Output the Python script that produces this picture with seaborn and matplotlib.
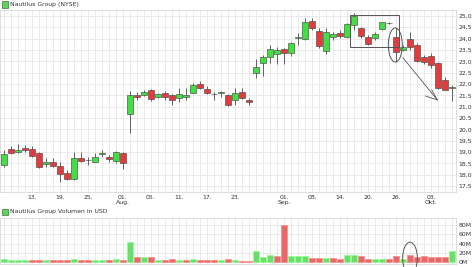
import matplotlib
matplotlib.use("Agg")
import matplotlib.pyplot as plt
from matplotlib.patches import Rectangle, Ellipse
import seaborn as sns
import pandas as pd
import numpy as np

# ---------------- data (Nautilus Group, 07 Jul - 06 Oct 2005) ----------------
dates = ["07.07", "08.07", "11.07", "12.07", "13.07", "14.07", "15.07", "18.07", "19.07", "20.07",
         "21.07", "22.07", "25.07", "26.07", "27.07", "28.07", "29.07", "01.08", "02.08", "03.08",
         "04.08", "05.08", "08.08", "09.08", "10.08", "11.08", "12.08", "15.08", "16.08", "17.08",
         "18.08", "19.08", "22.08", "23.08", "24.08", "25.08", "26.08", "29.08", "30.08", "31.08",
         "01.09", "02.09", "06.09", "07.09", "08.09", "09.09", "12.09", "13.09", "14.09", "15.09",
         "16.09", "19.09", "20.09", "21.09", "22.09", "23.09", "26.09", "27.09", "28.09", "29.09",
         "30.09", "03.10", "04.10", "05.10", "06.10"]

opens = [18.43, 19.13, 19.00, 19.19, 19.13, 18.97, 18.47, 18.56, 18.38, 18.07,
         17.80, 18.72, 18.64, 18.57, 18.93, 18.79, 18.61, 18.97, 20.68, 21.52,
         21.52, 21.74, 21.44, 21.59, 21.52, 21.37, 21.44, 21.62, 22.00, 21.77,
         21.54, 21.59, 21.52, 21.29, 21.63, 21.29, 22.50, 22.94, 23.20, 23.31,
         23.54, 23.35, 24.04, 23.97, 24.78, 24.34, 23.47, 24.06, 24.24, 24.09,
         24.60, 24.46, 24.09, 24.02, 24.41, 24.67, 24.09, 23.50, 23.97, 23.72,
         23.20, 23.24, 22.91, 22.18, 21.82]
highs = [19.09, 19.27, 19.35, 19.31, 19.27, 19.01, 18.74, 18.74, 18.57, 18.21,
         19.01, 19.01, 18.79, 18.94, 19.09, 18.87, 19.04, 19.01, 21.70, 21.66,
         21.75, 21.80, 21.62, 21.70, 21.55, 21.81, 21.81, 22.03, 22.13, 21.91,
         21.66, 21.70, 21.55, 21.82, 21.81, 21.37, 23.09, 23.28, 23.72, 23.65,
         23.60, 23.87, 24.24, 24.90, 24.90, 24.46, 24.46, 24.31, 24.38, 24.68,
         25.12, 24.53, 24.16, 24.31, 24.75, 24.72, 24.46, 23.72, 24.28, 23.80,
         23.28, 23.35, 22.95, 22.32, 21.96]
lows = [18.34, 18.91, 18.96, 19.00, 18.78, 18.30, 18.34, 18.34, 17.69, 17.77,
        17.77, 18.57, 18.43, 18.57, 18.79, 18.57, 18.52, 18.25, 19.85, 21.30,
        21.45, 21.25, 21.38, 21.29, 21.07, 21.22, 21.29, 21.60, 21.77, 21.55,
        21.29, 21.44, 21.05, 21.07, 21.33, 21.07, 22.25, 22.35, 22.91, 22.87,
        22.87, 23.24, 23.72, 23.94, 24.38, 23.58, 23.32, 23.94, 24.02, 24.02,
        24.38, 24.02, 23.72, 23.94, 24.38, 24.64, 22.98, 23.46, 23.50, 22.98,
        22.90, 22.69, 21.76, 21.74, 21.25]
closes = [18.91, 18.96, 19.09, 19.09, 18.83, 18.34, 18.57, 18.40, 18.03, 17.81,
          18.72, 18.61, 18.66, 18.79, 18.95, 18.69, 18.99, 18.53, 21.52, 21.41,
          21.66, 21.33, 21.55, 21.44, 21.29, 21.56, 21.52, 21.96, 21.84, 21.59,
          21.56, 21.66, 21.07, 21.59, 21.37, 21.19, 22.76, 23.20, 23.54, 23.50,
          23.35, 23.80, 24.08, 24.75, 24.46, 23.68, 24.31, 24.19, 24.12, 24.63,
          25.00, 24.12, 23.75, 24.19, 24.72, 24.69, 23.40, 23.65, 23.65, 23.00,
          22.96, 22.84, 21.81, 21.74, 21.84]
volumes_m = [5.8, 3.6, 3.6, 3.6, 4.3, 4.3, 4.3, 3.6, 4.3, 3.6,
             6.5, 4.3, 3.6, 3.6, 3.6, 3.6, 6.5, 5.0, 43.0, 11.6,
             10.8, 11.6, 5.0, 4.3, 6.5, 4.3, 3.6, 6.5, 5.0, 5.0,
             3.6, 5.0, 6.5, 4.3, 2.9, 2.9, 23.0, 10.9, 14.5, 12.3,
             80.0, 13.0, 12.3, 12.3, 8.7, 8.7, 9.4, 8.7, 5.8, 16.0,
             16.0, 13.8, 5.8, 5.8, 7.2, 5.8, 12.3, 6.5, 14.5, 10.9,
             13.0, 10.9, 10.9, 10.9, 25.0]
volume_dir = ["up", "up", "up", "up", "down", "down", "up", "down", "down", "down",
              "up", "down", "down", "up", "up", "down", "up", "down", "up", "down",
              "up", "down", "up", "down", "down", "up", "down", "up", "down", "down",
              "down", "up", "down", "up", "down", "down", "up", "up", "up", "down",
              "down", "up", "up", "up", "down", "down", "up", "down", "down", "up",
              "up", "down", "down", "up", "up", "down", "down", "up", "down", "down",
              "down", "down", "down", "down", "up"]

tick_idx = [4, 8, 12, 17, 21, 25, 29, 33, 40, 44, 48, 52, 56, 61]
tick_labels = ["13.", "19.", "25.", "01.\nAug.", "05.", "11.", "17.", "23.",
               "01.\nSep.", "08.", "14.", "20.", "26.", "03.\nOkt."]
price_ticks = [17.5, 18.0, 18.5, 19.0, 19.5, 20.0, 20.5, 21.0, 21.5, 22.0, 22.5, 23.0, 23.5, 24.0, 24.5, 25.0]
vol_ticks = [0, 20, 40, 60, 80]

# ---------------- styling ----------------
sns.set_theme(style="white")
plt.rcParams["font.family"] = ["DejaVu Sans"]
GREEN = "#3fe03f"
RED = "#e63a3a"
EDGE = "#4a4a4a"
GRID = "#e6e6e6"
TXT = "#333333"
ANN = "#555555"
FS = 4.4

W, H = 475, 267
fig = plt.figure(figsize=(W / 100, H / 100), dpi=100)

def fx(px):
    return px / W

def fy(py):
    return 1 - py / H

n = len(opens)
x = np.arange(n)
xlim = (-0.57, n - 1 + 0.57)

# ---------------- price panel ----------------
ax = fig.add_axes([fx(0), fy(192), fx(456), fy(10) - fy(192)])
ax.set_xlim(*xlim)
ax.set_ylim(17.24, 25.26)
ax.set_xticks(x, minor=True)
ax.set_yticks(price_ticks)
ax.grid(True, which="both", color=GRID, lw=0.6)
ax.set_axisbelow(True)

df = pd.DataFrame({"x": x, "open": opens, "high": highs, "low": lows, "close": closes})
up = df["close"] >= df["open"]
ax.vlines(df["x"], df["low"], df["high"], color=EDGE, lw=0.6, zorder=2)
body_h = (df["close"] - df["open"]).abs().clip(lower=0.03)
body_b = df[["open", "close"]].min(axis=1)
ax.bar(df["x"], body_h, bottom=body_b, width=0.72,
       color=np.where(up, GREEN, RED), edgecolor=EDGE, lw=0.45, zorder=3)

ax.set_xticks(tick_idx)
ax.set_xticklabels(tick_labels, fontsize=FS, color=TXT, linespacing=1.0)
ax.yaxis.tick_right()
ax.set_yticklabels([f"{v:.1f}".replace(".", ",") for v in price_ticks], fontsize=FS, color=TXT)
ax.tick_params(axis="both", length=0, pad=2)
for s in ax.spines.values():
    s.set_color("#d8d8d8")
    s.set_linewidth(0.6)

# annotations on the price panel
ax.add_patch(Rectangle((49.4, 23.63), 7.0, 1.41, fill=False, ec=ANN, lw=0.7, zorder=4))
ax.add_patch(Ellipse((55.9, 23.72), 2.0, 1.5, fill=False, ec=ANN, lw=0.7, zorder=4))
ax.plot([57.0, 61.9], [23.15, 21.3], color=ANN, lw=0.6, zorder=5)
ax.plot([60.2, 61.9], [21.47, 21.3], color=ANN, lw=0.6, zorder=5)
ax.plot([61.1, 61.9], [21.75, 21.3], color=ANN, lw=0.6, zorder=5)

# ---------------- volume panel ----------------
axv = fig.add_axes([fx(0), fy(264), fx(456), fy(218) - fy(264)])
vdf = pd.DataFrame({"idx": x, "vol": volumes_m, "dir": volume_dir})
sns.barplot(data=vdf, x="idx", y="vol", hue="dir", order=list(x),
            palette={"up": "#6ddc6d", "down": "#e26a6a"}, dodge=False, width=0.8,
            saturation=1, legend=False, ax=axv, zorder=3, linewidth=0.6)
for p in axv.patches:
    fc = p.get_facecolor()
    p.set_edgecolor((min(1, fc[0] * 1.1 + 0.1), min(1, fc[1] * 1.1 + 0.1), min(1, fc[2] * 1.1 + 0.1), 1))
axv.set_xlim(*xlim)
axv.set_ylim(-4.3, 95.6)
axv.set_xticks(x)
axv.set_xticklabels([])
axv.set_yticks(vol_ticks)
axv.yaxis.tick_right()
axv.set_yticklabels([f"{v}M" for v in vol_ticks], fontsize=FS, color=TXT)
axv.set_xlabel("")
axv.set_ylabel("")
axv.grid(True, color=GRID, lw=0.6)
axv.set_axisbelow(True)
axv.tick_params(axis="both", length=0, pad=2)
for s in axv.spines.values():
    s.set_color("#d8d8d8")
    s.set_linewidth(0.6)
axv.add_patch(Ellipse((58.0, 8.0), 2.1, 70, fill=False, ec=ANN, lw=0.7, zorder=4, clip_on=False))

# ---------------- titles with legend squares ----------------
for py, label in [(4.5, "Nautilus Group (NYSE)"), (211.5, "Nautilus Group Volumen in USD")]:
    fig.patches.append(Rectangle((fx(2), fy(py + 3)), fx(6), fy(0) - fy(6), transform=fig.transFigure,
                                 facecolor="#5fd35f", edgecolor="#3a7a3a", lw=0.5))
    fig.text(fx(10.5), fy(py), label, fontsize=FS, color=TXT, va="center", ha="left")

fig.savefig("out.png", dpi=100, facecolor="white")
